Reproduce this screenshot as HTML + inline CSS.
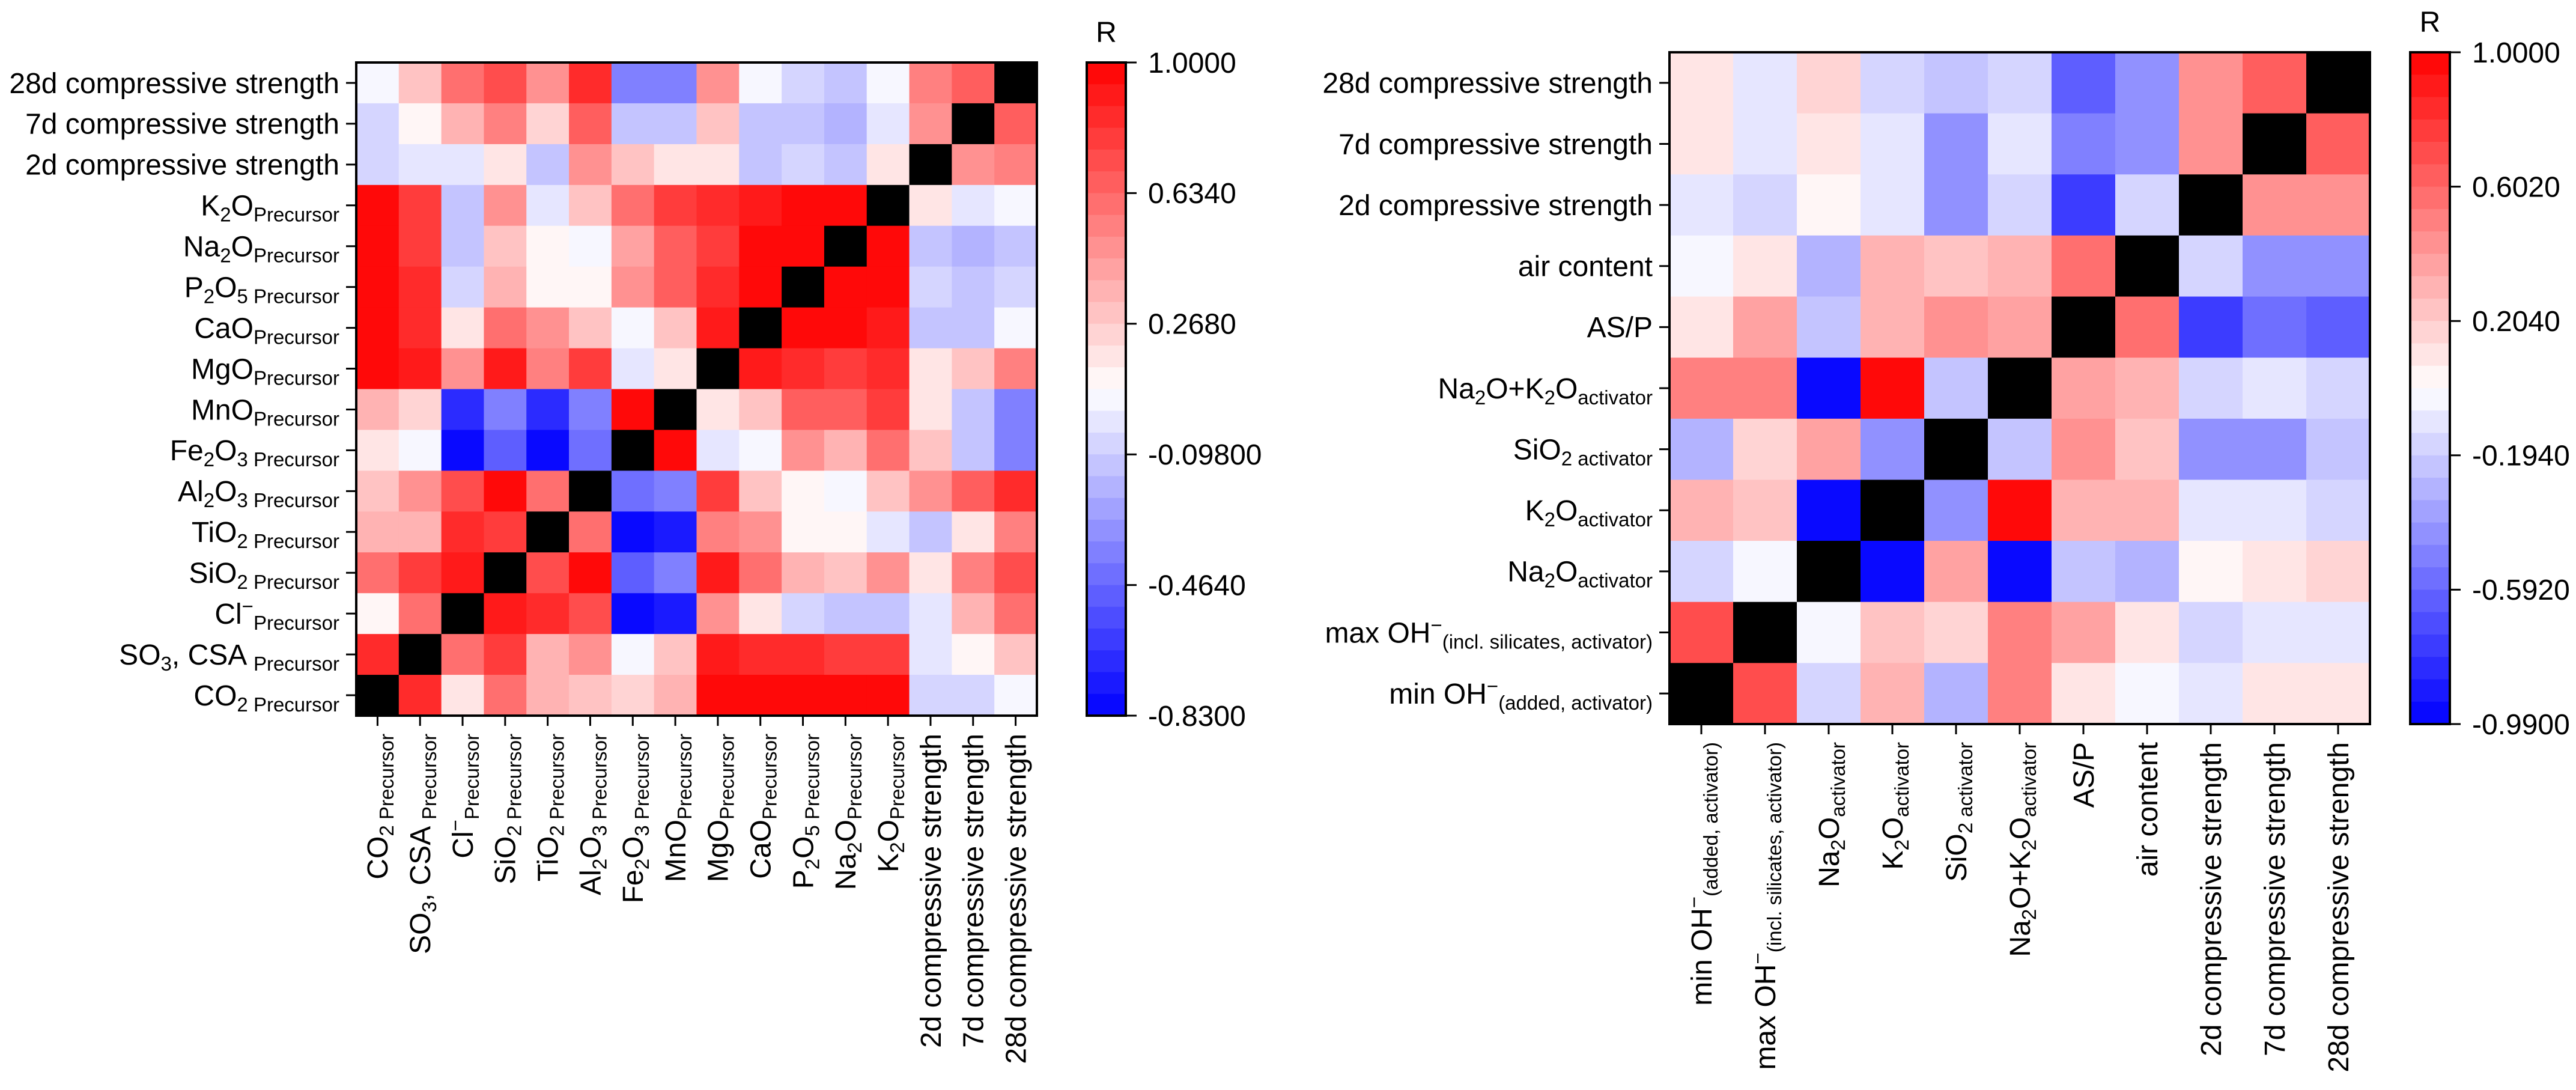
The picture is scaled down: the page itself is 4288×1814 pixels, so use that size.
<!DOCTYPE html>
<html><head><meta charset="utf-8"><style>
html,body{margin:0;padding:0;background:#fff;}
svg{display:block;font-family:"Liberation Sans",Arial,sans-serif;}
</style></head><body>
<svg id="chart" width="4288" height="1814" viewBox="0 0 4288 1814" xmlns="http://www.w3.org/2000/svg">
<rect width="4288" height="1814" fill="#fff"/>
<g id="left"></g>
<g id="right"></g>
</svg>
<script>
// ---- LEFT CHART DATA ----
const leftCategories = [
 [["CO",""],["2","sub"],[" Precursor","sub"]],
 [["SO",""],["3","sub"],[", CSA ",""],["Precursor","sub"]],
 [["Cl",""],["−","sup"],["Precursor","sub"]],
 [["SiO",""],["2","sub"],[" Precursor","sub"]],
 [["TiO",""],["2","sub"],[" Precursor","sub"]],
 [["Al",""],["2","sub"],["O",""],["3","sub"],[" Precursor","sub"]],
 [["Fe",""],["2","sub"],["O",""],["3","sub"],[" Precursor","sub"]],
 [["MnO",""],["Precursor","sub"]],
 [["MgO",""],["Precursor","sub"]],
 [["CaO",""],["Precursor","sub"]],
 [["P",""],["2","sub"],["O",""],["5","sub"],[" Precursor","sub"]],
 [["Na",""],["2","sub"],["O",""],["Precursor","sub"]],
 [["K",""],["2","sub"],["O",""],["Precursor","sub"]],
 [["2d compressive strength",""]],
 [["7d compressive strength",""]],
 [["28d compressive strength",""]]
];
// rows listed top to bottom (28d ... CO2), columns left to right (CO2 ... 28d)
const leftValues = [
 [0.06,0.32,0.6,0.7,0.47,0.85,-0.35,-0.35,0.47,0.06,-0.07,-0.12,0.06,0.55,0.66,null],
 [-0.07,0.13,0.38,0.52,0.24,0.66,-0.12,-0.12,0.32,-0.12,-0.12,-0.22,0.0,0.5,null,0.66],
 [-0.07,0.0,0.0,0.2,-0.12,0.5,0.28,0.2,0.2,-0.12,-0.07,-0.12,0.2,null,0.5,0.55],
 [0.98,0.78,-0.12,0.47,0.0,0.28,0.6,0.78,0.85,0.9,0.98,0.95,null,0.2,0.0,0.06],
 [0.98,0.78,-0.12,0.32,0.13,0.06,0.42,0.66,0.78,0.98,0.98,null,0.95,-0.12,-0.18,-0.12],
 [0.98,0.85,-0.07,0.38,0.13,0.13,0.5,0.66,0.85,0.96,null,0.95,0.95,-0.07,-0.12,-0.07],
 [0.98,0.85,0.2,0.6,0.5,0.32,0.06,0.32,0.9,null,0.96,0.96,0.9,-0.15,-0.15,0.06],
 [0.95,0.9,0.5,0.9,0.55,0.78,0.0,0.2,null,0.9,0.85,0.78,0.85,0.2,0.32,0.52],
 [0.38,0.26,-0.7,-0.35,-0.7,-0.35,0.98,null,0.2,0.32,0.66,0.66,0.78,0.2,-0.12,-0.35],
 [0.2,0.06,-0.78,-0.48,-0.83,-0.44,null,0.98,0.0,0.06,0.47,0.38,0.6,0.28,-0.12,-0.35],
 [0.32,0.5,0.7,0.96,0.63,null,-0.42,-0.35,0.78,0.32,0.13,0.06,0.28,0.5,0.66,0.85],
 [0.38,0.38,0.85,0.78,null,0.63,-0.83,-0.72,0.55,0.47,0.13,0.13,0.0,-0.12,0.2,0.52],
 [0.58,0.78,0.9,null,0.75,0.95,-0.48,-0.35,0.9,0.6,0.38,0.32,0.47,0.2,0.55,0.7],
 [0.13,0.58,null,0.9,0.85,0.7,-0.8,-0.72,0.47,0.2,-0.07,-0.12,-0.12,0.0,0.38,0.6],
 [0.82,null,0.58,0.78,0.38,0.47,0.06,0.28,0.9,0.85,0.85,0.78,0.78,0.0,0.13,0.32],
 [null,0.82,0.15,0.58,0.38,0.3,0.24,0.38,0.95,0.96,0.98,0.98,0.95,-0.07,-0.07,0.06]
];
const leftRange = [-0.83, 1.0];
const leftTicks = ["1.0000","0.6340","0.2680","-0.09800","-0.4640","-0.8300"];

// ---- RIGHT CHART DATA ----
const rightCategories = [
 [["min OH",""],["−","sup"],["(added, activator)","sub"]],
 [["max OH",""],["−","sup"],["(incl. silicates, activator)","sub"]],
 [["Na",""],["2","sub"],["O",""],["activator","sub"]],
 [["K",""],["2","sub"],["O",""],["activator","sub"]],
 [["SiO",""],["2","sub"],[" activator","sub"]],
 [["Na",""],["2","sub"],["O+K",""],["2","sub"],["O",""],["activator","sub"]],
 [["AS/P",""]],
 [["air content",""]],
 [["2d compressive strength",""]],
 [["7d compressive strength",""]],
 [["28d compressive strength",""]]
];
const rightValues = [
 [0.1,-0.1,0.18,-0.15,-0.2,-0.15,-0.6,-0.4,0.45,0.62,null],
 [0.1,-0.1,0.1,-0.1,-0.45,-0.1,-0.52,-0.4,0.45,null,0.62],
 [-0.1,-0.15,0.05,-0.1,-0.4,-0.15,-0.75,-0.15,null,0.45,0.45],
 [-0.05,0.1,-0.3,0.3,0.25,0.32,0.55,null,-0.17,-0.4,-0.4],
 [0.1,0.4,-0.2,0.3,0.45,0.4,null,0.55,-0.75,-0.56,-0.6],
 [0.5,0.5,-0.99,0.97,-0.2,null,0.38,0.3,-0.15,-0.1,-0.15],
 [-0.3,0.2,0.38,-0.4,null,-0.2,0.42,0.25,-0.4,-0.45,-0.2],
 [0.3,0.25,-0.99,null,-0.4,0.97,0.3,0.3,-0.1,-0.1,-0.15],
 [-0.17,-0.05,null,-0.99,0.38,-0.95,-0.2,-0.27,0.05,0.13,0.2],
 [0.7,null,-0.05,0.25,0.2,0.5,0.38,0.1,-0.15,-0.1,-0.1],
 [null,0.7,-0.15,0.3,-0.27,0.5,0.1,-0.05,-0.1,0.1,0.1]
];
const rightRange = [-0.99, 1.0];
const rightTicks = ["1.0000","0.6020","0.2040","-0.1940","-0.5920","-0.9900"];

const NS = "http://www.w3.org/2000/svg";
const NB = 30;
function colorFor(v, range){
  let t = (v - range[0]) / (range[1] - range[0]);
  t = Math.max(0, Math.min(1, t));
  let k = Math.min(NB - 1, Math.floor(t * NB));
  const tc = (k + 0.5) / NB;
  let r, g, b;
  if (tc < 0.5) { const s = tc / 0.5; r = g = Math.round(255 * s); b = 255; }
  else { const s = (1 - tc) / 0.5; r = 255; g = b = Math.round(255 * s); }
  return "rgb(" + r + "," + g + "," + b + ")";
}
function mk(tag, attrs, parent){
  const e = document.createElementNS(NS, tag);
  for (const k in attrs) e.setAttribute(k, attrs[k]);
  parent.appendChild(e);
  return e;
}
function richText(parent, segs, x, y, anchor, transform, fs, name){
  const t = mk("text", {x:x, y:y, "text-anchor":anchor, "font-size":fs, fill:"#000"}, parent);
  if (transform) t.setAttribute("transform", transform);
  
  
  let cur = 0;
  const sfs = Math.round(fs * 0.68);
  for (const s of segs) {
    const ts = document.createElementNS(NS, "tspan");
    let off = 0, size = fs;
    if (s[1] === "sub") { off = Math.round(fs * 0.2); size = sfs; }
    if (s[1] === "sup") { off = -Math.round(fs * 0.38); size = sfs; }
    ts.setAttribute("dy", off - cur);
    ts.setAttribute("font-size", size);
    cur = off;
    ts.textContent = s[0];
    t.appendChild(ts);
  }
  return t;
}
function drawPanel(g, cats, vals, range, ticks, L, prefix){
  const n = cats.length;
  const cw = (L.x1 - L.x0) / n, ch = (L.y1 - L.y0) / n;
  const xPos = j => L.x0 + j * cw;
  const yPos = i => L.y0 + i * ch;
  for (let i = 0; i < n; i++) for (let j = 0; j < n; j++) {
    const v = vals[i][j];
    const r = mk("rect", {x:xPos(j), y:yPos(i), width:cw + 0.6, height:ch + 0.6,
      fill: v === null ? "#000" : colorFor(v, range)}, g);
    
    
  }
  const fr = mk("rect", {x:L.x0, y:L.y0, width:L.x1 - L.x0, height:L.y1 - L.y0, fill:"none", stroke:"#000", "stroke-width":4}, g);
  
  
  const fs = L.fs;
  for (let i = 0; i < n; i++) {
    const cy = yPos(i) + ch / 2;
    mk("line", {x1:L.x0 - 17, x2:L.x0, y1:cy, y2:cy, stroke:"#000", "stroke-width":3}, g);
    richText(g, cats[n - 1 - i], L.x0 - 28, cy + fs * 0.35, "end", null, fs, prefix + '-y-tick-label');
  }
  for (let j = 0; j < n; j++) {
    const cx = xPos(j) + cw / 2;
    mk("line", {x1:cx, x2:cx, y1:L.y1, y2:L.y1 + 17, stroke:"#000", "stroke-width":3}, g);
    const lx = cx + fs * 0.35, ly = L.y1 + 30;
    richText(g, cats[j], lx, ly, "end", "rotate(-90 " + lx + " " + ly + ")", fs, prefix + '-x-tick-label');
  }
  const C = L.cb;
  const bh = (C.y1 - C.y0) / NB;
  for (let k = 0; k < NB; k++) {
    const v = range[1] - (k + 0.5) / NB * (range[1] - range[0]);
    const r = mk("rect", {x:C.x0, y:C.y0 + k * bh, width:C.x1 - C.x0, height:bh + 0.6, fill:colorFor(v, range)}, g);
    
    
  }
  const cf = mk("rect", {x:C.x0, y:C.y0, width:C.x1 - C.x0, height:C.y1 - C.y0, fill:"none", stroke:"#000", "stroke-width":4}, g);
  
  
  for (let k = 0; k < ticks.length; k++) {
    const ty = C.y0 + k * (C.y1 - C.y0) / (ticks.length - 1);
    mk("line", {x1:C.x1, x2:C.x1 + 18, y1:ty, y2:ty, stroke:"#000", "stroke-width":3}, g);
    const t = mk("text", {x:C.x1 + 37, y:ty + fs * 0.35, "font-size":fs, fill:"#000"}, g);
    
    
    t.textContent = ticks[k];
  }
  const R = mk("text", {x:(C.x0 + C.x1) / 2, y:C.rY, "font-size":fs, "text-anchor":"middle", fill:"#000"}, g);
  
  
  R.textContent = "R";
}
drawPanel(document.getElementById("left"), leftCategories, leftValues, leftRange, leftTicks,
  {x0:593, x1:1726, y0:104, y1:1191, fs:48, cb:{x0:1809, x1:1874, y0:104, y1:1191, rY:70}}, "left");
drawPanel(document.getElementById("right"), rightCategories, rightValues, rightRange, rightTicks,
  {x0:2779, x1:3945, y0:87, y1:1205, fs:48, cb:{x0:4012, x1:4078, y0:87, y1:1205, rY:53}}, "right");
</script>
</body></html>
